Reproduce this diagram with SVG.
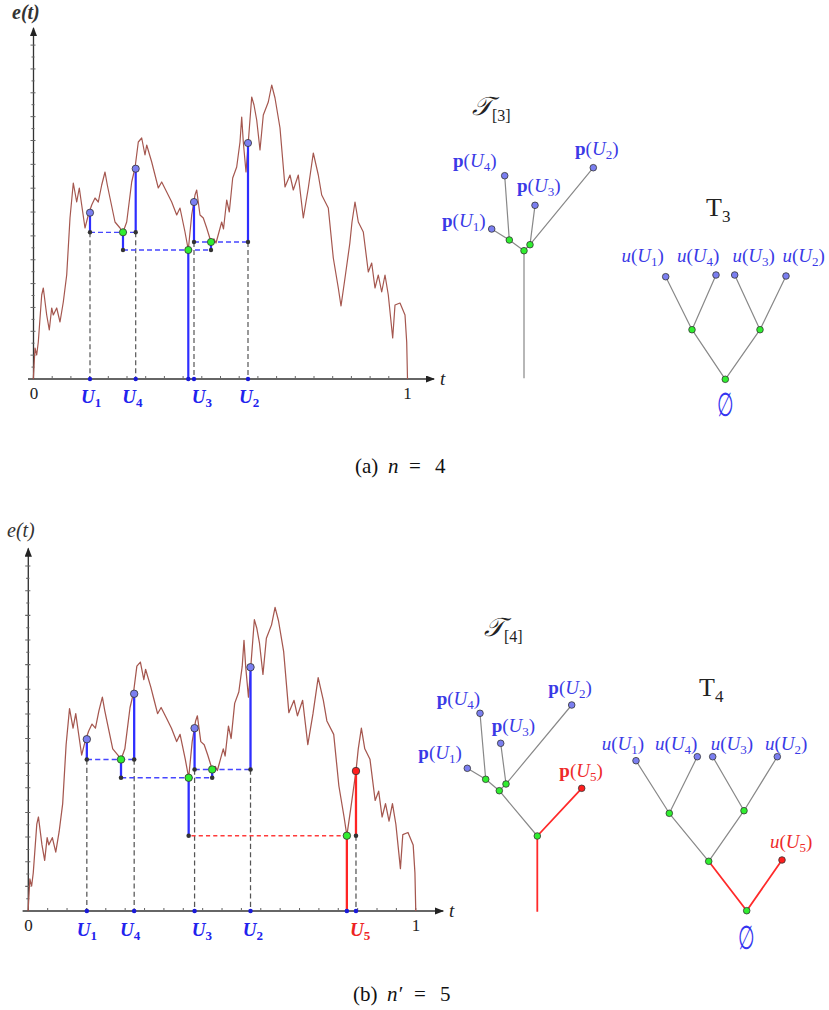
<svg xmlns="http://www.w3.org/2000/svg" width="829" height="1010" viewBox="0 0 829 1010">
<style>
.curve{fill:none;stroke:#a5574f;stroke-width:1.2;stroke-linejoin:round}
.axis{fill:none;stroke:#333;stroke-width:1.3}
.tick{fill:none;stroke:#666;stroke-width:1}
.gd{stroke:#555;stroke-width:1.2;stroke-dasharray:5 3;fill:none}
.bd{stroke:#4646ff;stroke-width:1.3;stroke-dasharray:5 3;fill:none}
.rd{stroke:#ff3b3b;stroke-width:1.5;stroke-dasharray:4 3;fill:none}
.bs{stroke:#2e2eff;stroke-width:2.2;fill:none}
.rs{stroke:#ff2424;stroke-width:2.2;fill:none}
.lv{fill:#7b7ff0;stroke:#333;stroke-width:0.8}
.gr{fill:#30ee30;stroke:#333;stroke-width:0.8}
.rn{fill:#ff1e1e;stroke:#333;stroke-width:0.8}
.bk{fill:#333}
.ax{fill:#1a1ad8}
.te{stroke:#888;stroke-width:1.2;fill:none}
.tr{stroke:#ff2a2a;stroke-width:1.8;fill:none}
text{font-family:"Liberation Serif","DejaVu Serif",serif}
.ul{font-weight:bold;font-style:italic;font-size:19px;fill:#2222ee}
.ulr{font-weight:bold;font-style:italic;font-size:19px;fill:#ee2222}
.pl{font-size:19px;fill:#3a3ae6}
.plr{font-size:19px;fill:#ee2a2a}
.num{font-size:17px;fill:#222}
.cap{font-size:21px;fill:#111}
.ttl{font-size:26px;fill:#222}
.empty{font-size:26px;fill:#3535f0}
</style>
<defs>
<marker id="arr" markerWidth="9" markerHeight="7" refX="8" refY="3.5" orient="auto" markerUnits="userSpaceOnUse">
<path d="M0,0 L9,3.5 L0,7 z" fill="#222"/>
</marker>
<path id="curvepath" class="curve" d="M33.3,379 L35,348 L36.7,355 L38.3,342 L41.7,295 L43.3,288 L46.7,315 L49.3,330 L51.7,308 L53.3,315 L56.7,308 L60,322 L63.3,302 L66.7,275 L70,218 L73.3,183 L76.7,202 L79.3,188 L81.7,205 L85,228 L88.3,215 L91.7,205 L95,198 L98.3,202 L101.7,185 L105,172 L107.3,185 L110,198 L115,222 L120,228 L123,232.3 L126.7,222 L131.7,182 L135,168 L138.3,142 L141.7,138 L145,155 L146.7,145 L151.7,162 L155,175 L158.3,188 L161.7,182 L166.7,192 L171.7,202 L176.7,215 L180,208 L185,232 L188.3,250 L191.7,215 L195,195 L196.7,190 L200,215 L203.3,218 L206.7,228 L211,242 L214,239 L216,243 L219,232 L221.7,222 L223.5,229 L226.7,200 L229.3,212 L232.7,178 L236.7,167 L240,142 L241.7,117 L243.3,142 L246,172 L248.3,142 L251.7,97 L254,105 L256.7,120 L260,150 L263.3,115 L268.3,102 L271.7,85 L275,98 L280,128 L285,187 L290,175 L293.3,190 L298.3,175 L303.3,218 L308.3,188 L313.3,153 L318.3,175 L321.7,195 L328.3,208 L333.3,258 L338.3,288 L341,306 L345,278 L349.8,243.5 L352,222 L355,202 L358.3,222 L363.3,232 L368.3,272 L371.7,263 L375,288 L378.3,275 L381.7,292 L385,275 L388.3,295 L392.7,338 L395,305 L400,303 L405,315 L406.7,342 L407.5,379"/>
<g id="axes">
<path class="axis" d="M33.5,379 V28" marker-end="url(#arr)"/>
<path class="axis" d="M28,379 H434" marker-end="url(#arr)"/>
<path class="tick" d="M30.5,355.15h5M30.5,331.3h5M30.5,307.45h5M30.5,283.6h5M30.5,259.75h5M30.5,235.9h5M30.5,212.05h5M30.5,188.2h5M30.5,164.35h5M30.5,140.5h5M30.5,116.65h5M30.5,92.8h5M30.5,68.95h5M30.5,45.1h5M31.5,367.1h3M31.5,343.2h3M31.5,319.4h3M31.5,295.5h3M31.5,271.7h3M31.5,247.8h3M31.5,224h3M31.5,200.1h3M31.5,176.3h3M31.5,152.4h3M31.5,128.6h3M31.5,104.7h3M31.5,80.9h3M31.5,57h3"/>
<path class="tick" d="M52.2,379v-3M70.9,379v-3M89.6,379v-3M108.3,379v-3M127,379v-3M145.7,379v-3M164.4,379v-3M183.1,379v-3M201.8,379v-3M220.5,379v-3M239.2,379v-3M257.9,379v-3M276.6,379v-3M295.3,379v-3M314,379v-3M332.7,379v-3M351.4,379v-3M370.1,379v-3M388.8,379v-3M407.5,379v-3"/>
</g>
</defs>

<g id="plot-a">
<use href="#axes"/>
<use href="#curvepath"/>
<path class="gd" d="M90,232.3V379M135.7,232.3V379M194,242V379M248,242V379"/>
<path class="bd" d="M90,232.3H135.7M123,250H211M194,242H248"/>
<path class="bs" d="M90,212.7V232.3M135.7,168.7V232.3M194,202V242M248,143V242M123,232.3V250M211,242V250M188.3,250V379"/>
<circle class="bk" cx="90" cy="232.3" r="2.2"/><circle class="bk" cx="135.7" cy="232.3" r="2.2"/>
<circle class="bk" cx="123" cy="250" r="2.2"/><circle class="bk" cx="211" cy="250" r="2.2"/>
<circle class="bk" cx="194" cy="242" r="2.2"/><circle class="bk" cx="248" cy="242" r="2.2"/>
<circle class="ax" cx="90" cy="379" r="2.2"/><circle class="ax" cx="135.7" cy="379" r="2.2"/>
<circle class="ax" cx="188.3" cy="379" r="2.2"/><circle class="ax" cx="194" cy="379" r="2.2"/>
<circle class="ax" cx="248" cy="379" r="2.2"/>
<circle class="lv" cx="90" cy="212.7" r="3.6"/><circle class="lv" cx="135.7" cy="168.7" r="3.6"/>
<circle class="lv" cx="194" cy="202" r="3.6"/><circle class="lv" cx="248" cy="143" r="3.6"/>
<circle class="gr" cx="123" cy="232.3" r="3.6"/><circle class="gr" cx="188.3" cy="250" r="3.6"/>
<circle class="gr" cx="211" cy="242" r="3.6"/>
</g>
<g id="labels-a">
<text x="12" y="19" font-size="20" font-style="italic" font-weight="bold" fill="#333">e(t)</text>
<text class="num" x="34" y="399" text-anchor="middle">0</text>
<text class="num" x="407.5" y="399" text-anchor="middle">1</text>
<text x="440" y="385" font-size="19" font-style="italic" fill="#222">t</text>
<text class="ul" x="81" y="403">U<tspan font-size="13" font-style="normal" dy="4">1</tspan></text>
<text class="ul" x="122.3" y="403">U<tspan font-size="13" font-style="normal" dy="4">4</tspan></text>
<text class="ul" x="191.7" y="403">U<tspan font-size="13" font-style="normal" dy="4">3</tspan></text>
<text class="ul" x="239" y="403">U<tspan font-size="13" font-style="normal" dy="4">2</tspan></text>
</g>

<g id="tree-T3cal">
<text class="ttl" x="472" y="115" font-style="italic">𝒯<tspan font-size="16" font-style="normal" dy="6">[3]</tspan></text>
<g id="conn-a1">
<path class="te" d="M491.7,229L509.3,240M504.7,175.7L509.3,240M509.3,240L524,250.7M535,205.3L530,244.7M593.3,167.7L530,244.7M530,244.7L524,250.7M524,250.7V378.3"/>
</g>
<g id="a1-pU1"><circle class="lv" cx="491.7" cy="229" r="3.3"/><text class="pl" x="442" y="227"><tspan font-weight="bold">p</tspan>(<tspan font-style="italic">U</tspan><tspan font-size="13" dy="4">1</tspan><tspan dy="-4">)</tspan></text></g>
<g id="a1-pU4"><circle class="lv" cx="504.7" cy="175.7" r="3.3"/><text class="pl" x="453" y="167"><tspan font-weight="bold">p</tspan>(<tspan font-style="italic">U</tspan><tspan font-size="13" dy="4">4</tspan><tspan dy="-4">)</tspan></text></g>
<g id="a1-pU3"><circle class="lv" cx="535" cy="205.3" r="3.3"/><text class="pl" x="517" y="192"><tspan font-weight="bold">p</tspan>(<tspan font-style="italic">U</tspan><tspan font-size="13" dy="4">3</tspan><tspan dy="-4">)</tspan></text></g>
<g id="a1-pU2"><circle class="lv" cx="593.3" cy="167.7" r="3.3"/><text class="pl" x="575" y="155"><tspan font-weight="bold">p</tspan>(<tspan font-style="italic">U</tspan><tspan font-size="13" dy="4">2</tspan><tspan dy="-4">)</tspan></text></g>
<g id="a1-g1"><circle class="gr" cx="509.3" cy="240" r="3.3"/></g>
<g id="a1-g3"><circle class="gr" cx="530" cy="244.7" r="3.3"/></g>
<g id="a1-g2"><circle class="gr" cx="524" cy="250.7" r="3.3"/></g>
</g>

<g id="tree-T3">
<text class="ttl" x="706" y="216">T<tspan font-size="17" dy="6">3</tspan></text>
<g id="conn-a2">
<path class="te" d="M665.7,276.7L692,329.7M716,275L692,329.7M734.7,275L760,329.7M786,276L760,329.7M692,329.7L725.3,379.3M760,329.7L725.3,379.3"/>
</g>
<g id="a2-uU1"><circle class="lv" cx="665.7" cy="276.7" r="3.3"/><text class="pl" x="621.5" y="262"><tspan font-style="italic">u</tspan>(<tspan font-style="italic">U</tspan><tspan font-size="13" dy="4">1</tspan><tspan dy="-4">)</tspan></text></g>
<g id="a2-uU4"><circle class="lv" cx="716" cy="275" r="3.3"/><text class="pl" x="677" y="262"><tspan font-style="italic">u</tspan>(<tspan font-style="italic">U</tspan><tspan font-size="13" dy="4">4</tspan><tspan dy="-4">)</tspan></text></g>
<g id="a2-uU3"><circle class="lv" cx="734.7" cy="275" r="3.3"/><text class="pl" x="732.5" y="262"><tspan font-style="italic">u</tspan>(<tspan font-style="italic">U</tspan><tspan font-size="13" dy="4">3</tspan><tspan dy="-4">)</tspan></text></g>
<g id="a2-uU2"><circle class="lv" cx="786" cy="276" r="3.3"/><text class="pl" x="782.5" y="262"><tspan font-style="italic">u</tspan>(<tspan font-style="italic">U</tspan><tspan font-size="13" dy="4">2</tspan><tspan dy="-4">)</tspan></text></g>
<g id="a2-gL"><circle class="gr" cx="692" cy="329.7" r="3.3"/></g>
<g id="a2-gR"><circle class="gr" cx="760" cy="329.7" r="3.3"/></g>
<g id="a2-root"><circle class="gr" cx="725.3" cy="379.3" r="3.3"/><text class="empty" transform="translate(725.7 415.5) scale(0.72 1.25)" text-anchor="middle">∅</text></g>
</g>

<text class="cap" x="355" y="473">(a)<tspan x="388" font-style="italic">n</tspan><tspan x="409">=</tspan><tspan x="435">4</tspan></text>

<g id="plot-b">
<g transform="matrix(1.036 0 0 1.033 -6.41 519.5)">
<use href="#axes"/>
<use href="#curvepath"/>
<path class="gd" d="M90,232.3V379M135.7,232.3V379M194,242V379M248,242V379M349.8,306.1V379"/>
<path class="bd" d="M90,232.3H135.7M123,250H211M194,242H248"/>
<path class="rd" d="M191,306.1H341"/>
<path class="bs" d="M90,212.7V232.3M135.7,168.7V232.3M194,202V242M248,143V242M123,232.3V250M211,242V250M188.3,250V306.1"/>
<path class="rs" d="M341,306.1V379M349.8,243.5V306.1"/>
<circle class="bk" cx="90" cy="232.3" r="2.2"/><circle class="bk" cx="135.7" cy="232.3" r="2.2"/>
<circle class="bk" cx="123" cy="250" r="2.2"/><circle class="bk" cx="211" cy="250" r="2.2"/>
<circle class="bk" cx="194" cy="242" r="2.2"/><circle class="bk" cx="248" cy="242" r="2.2"/>
<circle class="bk" cx="188.3" cy="306.1" r="2.2"/><circle class="bk" cx="349.8" cy="306.1" r="2.2"/>
<circle class="ax" cx="90" cy="379" r="2.2"/><circle class="ax" cx="135.7" cy="379" r="2.2"/>
<circle class="ax" cx="194" cy="379" r="2.2"/><circle class="ax" cx="248" cy="379" r="2.2"/>
<circle class="ax" cx="341" cy="379" r="2.2"/><circle class="ax" cx="349.8" cy="379" r="2.2"/>
<circle class="lv" cx="90" cy="212.7" r="3.6"/><circle class="lv" cx="135.7" cy="168.7" r="3.6"/>
<circle class="lv" cx="194" cy="202" r="3.6"/><circle class="lv" cx="248" cy="143" r="3.6"/>
<circle class="gr" cx="123" cy="232.3" r="3.6"/><circle class="gr" cx="188.3" cy="250" r="3.6"/>
<circle class="gr" cx="211" cy="242" r="3.6"/><circle class="gr" cx="341" cy="306.1" r="3.6"/>
<circle class="rn" cx="349.8" cy="243.5" r="3.6"/>
</g>
</g>
<g id="labels-b">
<text x="7" y="537" font-size="20" font-style="italic" fill="#333">e(t)</text>
<text class="num" x="28.5" y="931" text-anchor="middle">0</text>
<text class="num" x="416" y="931" text-anchor="middle">1</text>
<text x="449" y="917" font-size="19" font-style="italic" fill="#222">t</text>
<text class="ul" x="76.7" y="936">U<tspan font-size="13" font-style="normal" dy="4">1</tspan></text>
<text class="ul" x="120" y="936">U<tspan font-size="13" font-style="normal" dy="4">4</tspan></text>
<text class="ul" x="191.7" y="936">U<tspan font-size="13" font-style="normal" dy="4">3</tspan></text>
<text class="ul" x="242.7" y="936">U<tspan font-size="13" font-style="normal" dy="4">2</tspan></text>
<text class="ulr" x="350" y="936">U<tspan font-size="13" font-style="normal" dy="4">5</tspan></text>
</g>

<g id="tree-T4cal">
<text class="ttl" x="484" y="636" font-style="italic">𝒯<tspan font-size="16" font-style="normal" dy="6">[4]</tspan></text>
<g id="conn-b1">
<path class="te" d="M467.3,768.3L485.7,779.3M480,713.3L485.7,779.3M485.7,779.3L499.3,790.7M500.7,743.3L506,784M571.7,705L506,784M506,784L499.3,790.7M499.3,790.7L537.3,836"/>
<path class="tr" d="M537.3,836L581.7,788.3M537.3,836V911.7"/>
</g>
<g id="b1-pU1"><circle class="lv" cx="467.3" cy="768.3" r="3.3"/><text class="pl" x="418.3" y="759"><tspan font-weight="bold">p</tspan>(<tspan font-style="italic">U</tspan><tspan font-size="13" dy="4">1</tspan><tspan dy="-4">)</tspan></text></g>
<g id="b1-pU4"><circle class="lv" cx="480" cy="713.3" r="3.3"/><text class="pl" x="436.7" y="705"><tspan font-weight="bold">p</tspan>(<tspan font-style="italic">U</tspan><tspan font-size="13" dy="4">4</tspan><tspan dy="-4">)</tspan></text></g>
<g id="b1-pU3"><circle class="lv" cx="500.7" cy="743.3" r="3.3"/><text class="pl" x="491.7" y="732"><tspan font-weight="bold">p</tspan>(<tspan font-style="italic">U</tspan><tspan font-size="13" dy="4">3</tspan><tspan dy="-4">)</tspan></text></g>
<g id="b1-pU2"><circle class="lv" cx="571.7" cy="705" r="3.3"/><text class="pl" x="548.3" y="694"><tspan font-weight="bold">p</tspan>(<tspan font-style="italic">U</tspan><tspan font-size="13" dy="4">2</tspan><tspan dy="-4">)</tspan></text></g>
<g id="b1-pU5"><circle class="rn" cx="581.7" cy="788.3" r="3.3"/><text class="plr" x="559.3" y="777"><tspan font-weight="bold">p</tspan>(<tspan font-style="italic">U</tspan><tspan font-size="13" dy="4">5</tspan><tspan dy="-4">)</tspan></text></g>
<g id="b1-g1"><circle class="gr" cx="485.7" cy="779.3" r="3.3"/></g>
<g id="b1-g3"><circle class="gr" cx="506" cy="784" r="3.3"/></g>
<g id="b1-g2"><circle class="gr" cx="499.3" cy="790.7" r="3.3"/></g>
<g id="b1-g4"><circle class="gr" cx="537.3" cy="836" r="3.3"/></g>
</g>

<g id="tree-T4">
<text class="ttl" x="699" y="696">T<tspan font-size="17" dy="6">4</tspan></text>
<g id="conn-b2">
<path class="te" d="M636,760.7L669.3,813.3M697.3,756.7L669.3,813.3M712.7,756.7L744,810.7M777.3,756.7L744,810.7M669.3,813.3L708.7,861.3M744,810.7L708.7,861.3"/>
<path class="tr" d="M708.7,861.3L746.7,910.7M782,860L746.7,910.7"/>
</g>
<g id="b2-uU1"><circle class="lv" cx="636" cy="760.7" r="3.3"/><text class="pl" x="601.7" y="750"><tspan font-style="italic">u</tspan>(<tspan font-style="italic">U</tspan><tspan font-size="13" dy="4">1</tspan><tspan dy="-4">)</tspan></text></g>
<g id="b2-uU4"><circle class="lv" cx="697.3" cy="756.7" r="3.3"/><text class="pl" x="655" y="750"><tspan font-style="italic">u</tspan>(<tspan font-style="italic">U</tspan><tspan font-size="13" dy="4">4</tspan><tspan dy="-4">)</tspan></text></g>
<g id="b2-uU3"><circle class="lv" cx="712.7" cy="756.7" r="3.3"/><text class="pl" x="710.7" y="750"><tspan font-style="italic">u</tspan>(<tspan font-style="italic">U</tspan><tspan font-size="13" dy="4">3</tspan><tspan dy="-4">)</tspan></text></g>
<g id="b2-uU2"><circle class="lv" cx="777.3" cy="756.7" r="3.3"/><text class="pl" x="765" y="750"><tspan font-style="italic">u</tspan>(<tspan font-style="italic">U</tspan><tspan font-size="13" dy="4">2</tspan><tspan dy="-4">)</tspan></text></g>
<g id="b2-uU5"><circle class="rn" cx="782" cy="860" r="3.3"/><text class="plr" x="770" y="848"><tspan font-style="italic">u</tspan>(<tspan font-style="italic">U</tspan><tspan font-size="13" dy="4">5</tspan><tspan dy="-4">)</tspan></text></g>
<g id="b2-gL"><circle class="gr" cx="669.3" cy="813.3" r="3.3"/></g>
<g id="b2-gR"><circle class="gr" cx="744" cy="810.7" r="3.3"/></g>
<g id="b2-gM"><circle class="gr" cx="708.7" cy="861.3" r="3.3"/></g>
<g id="b2-root"><circle class="gr" cx="746.7" cy="910.7" r="3.3"/><text class="empty" transform="translate(746.7 949) scale(0.72 1.25)" text-anchor="middle">∅</text></g>
</g>

<text class="cap" x="353" y="1001">(b)<tspan x="387" font-style="italic">n′</tspan><tspan x="414">=</tspan><tspan x="440">5</tspan></text>
</svg>
